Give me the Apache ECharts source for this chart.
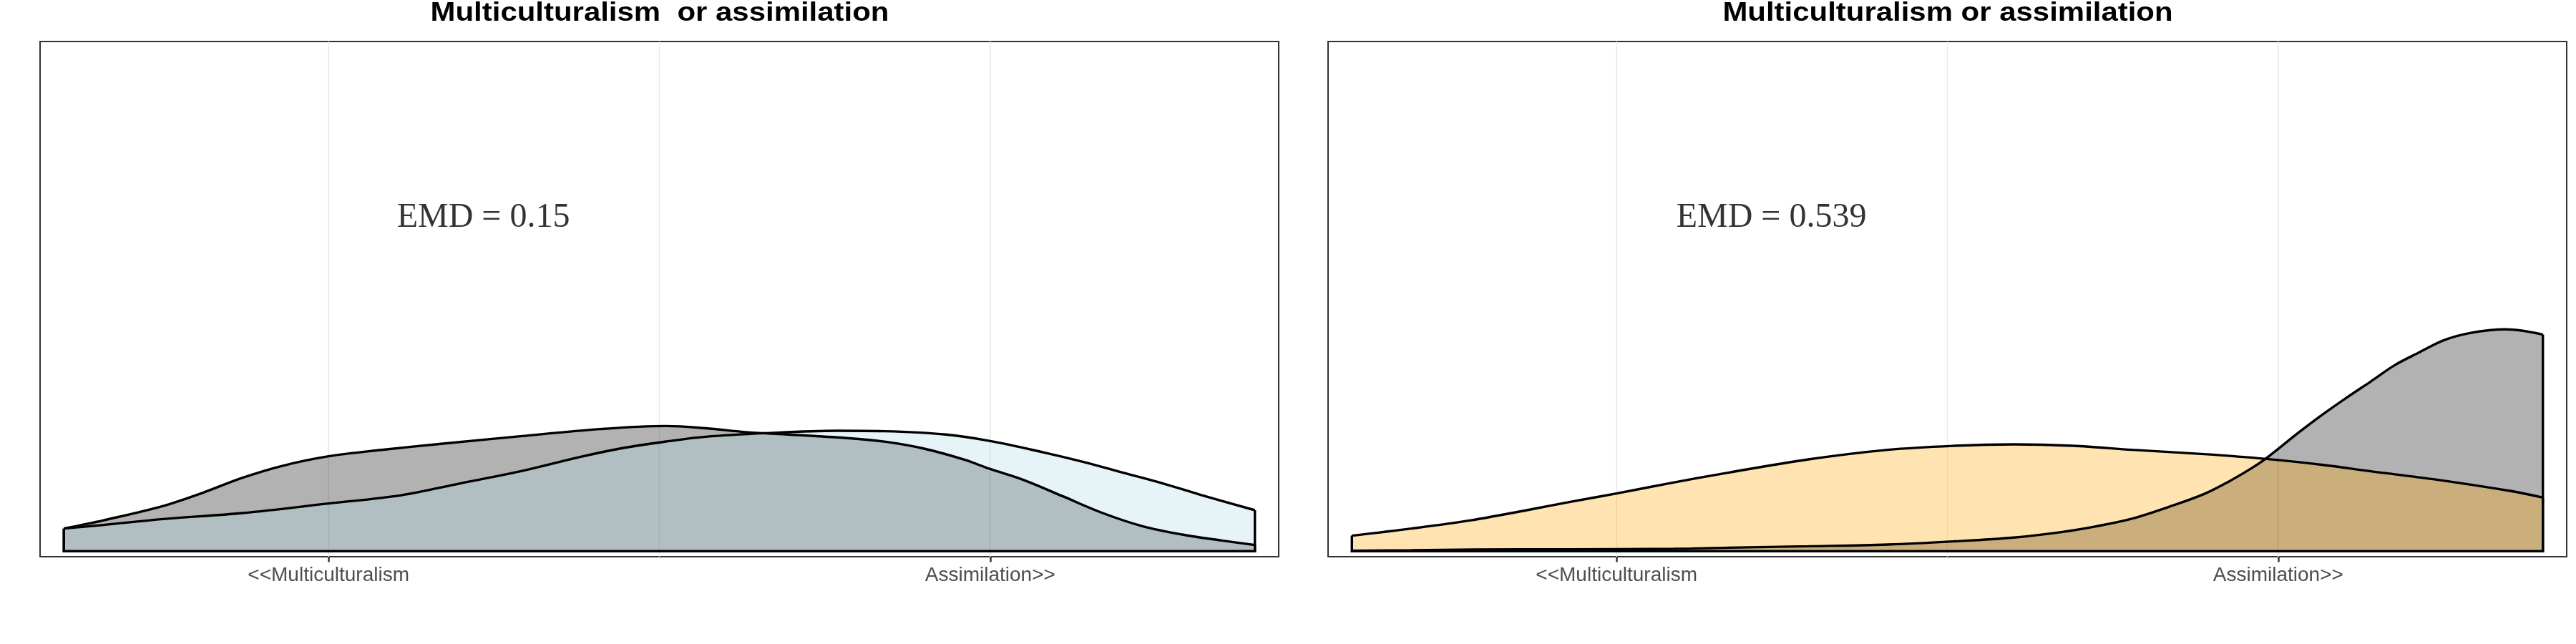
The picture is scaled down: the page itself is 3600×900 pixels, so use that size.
<!DOCTYPE html>
<html>
<head>
<meta charset="utf-8">
<title>EMD density</title>
<script src="https://cdn.jsdelivr.net/npm/echarts@6/dist/echarts.min.js"></script>
<style>
  body { margin: 0; background: #fff; }
  #container { width: 3600px; height: 900px; }
</style>
</head>
<body>
<div id="container"></div>
<script type="text/javascript">
// panel titles and annotations
var titles = ['Multiculturalism  or assimilation', 'Multiculturalism or assimilation'];
var emdTexts = ['EMD = 0.15', 'EMD = 0.539'];
var emdPos = [4.17, 0.523];

// x axis
var tickValues = [3, 8];
var tickLabels = ['<<Multiculturalism', 'Assimilation>>'];
var gridValues = [3, 5.5, 8];

// panel 1, grey group
var p1GreyX = [1.00, 1.30, 1.75, 2.05, 2.35, 2.65, 3.00, 3.40, 3.85, 4.45, 5.05, 5.55, 5.85, 6.15, 6.45, 6.90, 7.20, 7.50, 7.80, 8.00, 8.25, 8.55, 8.85, 9.15, 9.45, 9.75, 10.00];
var p1GreyY = [0.0356, 0.0486, 0.0711, 0.0918, 0.1153, 0.134, 0.149, 0.159, 0.1685, 0.1805, 0.1917, 0.1965, 0.193, 0.187, 0.1834, 0.1778, 0.172, 0.161, 0.144, 0.129, 0.112, 0.0861, 0.0599, 0.0393, 0.0262, 0.0168, 0.0098];
// panel 1, light blue group
var p1BlueX = [1.00, 1.30, 1.75, 2.35, 3.00, 3.55, 4.00, 4.45, 4.90, 5.20, 5.55, 5.85, 6.30, 6.84, 7.20, 7.65, 8.00, 8.40, 8.70, 9.00, 9.30, 9.60, 10.00];
var p1BlueY = [0.0356, 0.0412, 0.0505, 0.0599, 0.0749, 0.0879, 0.1067, 0.1254, 0.1479, 0.161, 0.1722, 0.1797, 0.1853, 0.189, 0.1883, 0.1834, 0.173, 0.1553, 0.1404, 0.1235, 0.1067, 0.0879, 0.0644];
// panel 2, grey group
var p2GreyX = [1.00, 1.45, 1.93, 2.65, 3.43, 3.85, 4.45, 5.05, 5.55, 6.00, 6.36, 6.63, 6.90, 7.17, 7.44, 7.62, 7.80, 7.91, 8.16, 8.34, 8.52, 8.70, 8.88, 9.06, 9.25, 9.45, 9.72, 10.00];
var p2GreyY = [0.0008, 0.0015, 0.0026, 0.003, 0.0037, 0.0056, 0.0078, 0.0105, 0.0155, 0.0215, 0.0300, 0.0393, 0.0513, 0.0693, 0.0898, 0.1086, 0.1305, 0.146, 0.1872, 0.2153, 0.2415, 0.2665, 0.292, 0.3114, 0.331, 0.3425, 0.3482, 0.34];
// panel 2, orange group
var p2OrangeX = [1.00, 1.45, 1.90, 2.35, 2.65, 3.00, 3.40, 3.85, 4.45, 5.05, 5.55, 6.00, 6.45, 6.90, 7.44, 7.91, 8.34, 8.70, 9.17, 9.75, 10.00];
var p2OrangeY = [0.0244, 0.0356, 0.0486, 0.0655, 0.0775, 0.0906, 0.1067, 0.1235, 0.1441, 0.1591, 0.1654, 0.1677, 0.1654, 0.1591, 0.1524, 0.1449, 0.1355, 0.1254, 0.1131, 0.0947, 0.0842];

var panels = [
  [{x: p1GreyX, y: p1GreyY, fill: 'rgba(0,0,0,0.3)'}, {x: p1BlueX, y: p1BlueY, fill: 'rgba(173,216,230,0.3)'}],
  [{x: p2GreyX, y: p2GreyY, fill: 'rgba(0,0,0,0.3)'}, {x: p2OrangeX, y: p2OrangeY, fill: 'rgba(255,165,0,0.3)'}]
];

var yMin = -0.0086, yMax = 0.8;

function zip(xs, ys) {
  var out = [];
  for (var i = 0; i < xs.length; i++) out.push([xs[i], ys[i]]);
  return out;
}

var grids = [], xAxes = [], yAxes = [], series = [], graphics = [];
for (var p = 0; p < 2; p++) {
  var left = 56 + p * 1800;
  grids.push({left: left, top: 58, width: 1731, height: 720, show: true,
    borderColor: '#333', borderWidth: 2, backgroundColor: 'transparent'});
  xAxes.push({
    type: 'value', gridIndex: p, min: 0.82, max: 10.18,
    axisLine: {show: false, onZero: false},
    splitLine: {show: false},
    axisTick: {show: true, customValues: tickValues, length: 7.5, lineStyle: {color: '#333', width: 2.5}},
    axisLabel: {
      customValues: tickValues, margin: 12, color: '#4D4D4D', fontSize: 28, fontFamily: 'Liberation Sans',
      formatter: function (v) { return tickLabels[tickValues.indexOf(v)]; }
    }
  });
  yAxes.push({type: 'value', gridIndex: p, min: yMin, max: yMax, show: false});

  // background grid lines, under the fills
  gridValues.forEach(function (v, i) {
    series.push({
      type: 'line', xAxisIndex: p, yAxisIndex: p, z: 1, silent: true, symbol: 'none',
      data: [[v, yMin], [v, yMax]],
      lineStyle: {color: '#EBEBEB', width: i === 1 ? 1.3 : 2}
    });
  });

  panels[p].forEach(function (g) {
    var n = g.x.length;
    series.push({
      type: 'line', xAxisIndex: p, yAxisIndex: p, data: zip(g.x, g.y),
      smooth: 0.35, showSymbol: false, symbol: 'none', z: 2,
      lineStyle: {color: '#000', width: 3.4},
      areaStyle: {color: g.fill, opacity: 1}
    });
    // closing edges of the density polygon
    series.push({
      type: 'line', xAxisIndex: p, yAxisIndex: p, z: 2, symbol: 'none', smooth: false,
      data: [[g.x[n - 1], g.y[n - 1]], [g.x[n - 1], 0], [g.x[0], 0], [g.x[0], g.y[0]]],
      lineStyle: {color: '#000', width: 3.4, join: 'miter'}
    });
  });

  series.push({
    type: 'scatter', xAxisIndex: p, yAxisIndex: p, symbolSize: 0, z: 5,
    data: [emdPos],
    label: {show: true, position: 'inside', formatter: emdTexts[p],
      fontFamily: 'Liberation Serif', fontSize: 48, color: '#000'}
  });

  graphics.push({
    type: 'text', x: left + 866, y: 19, scaleX: 1.165,
    style: {text: titles[p], font: 'bold 36px "Liberation Sans"', fill: '#000',
      textAlign: 'center', textVerticalAlign: 'middle'}
  });
}

var myChart = echarts.init(document.getElementById('container'));
myChart.setOption({
  animation: false,
  grid: grids,
  xAxis: xAxes,
  yAxis: yAxes,
  series: series,
  graphic: graphics
});
</script>
</body>
</html>
